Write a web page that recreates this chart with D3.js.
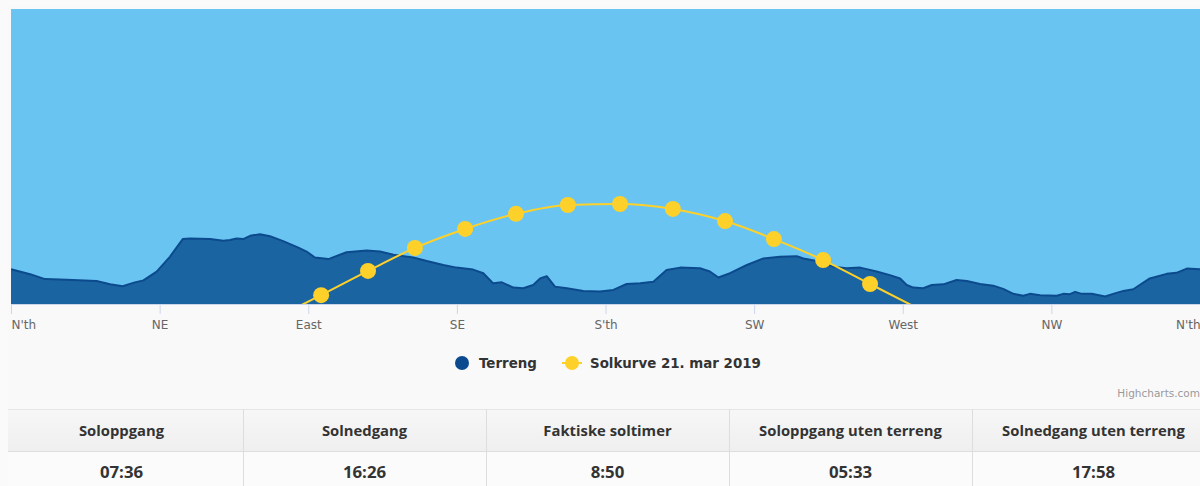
<!DOCTYPE html>
<html>
<head>
<meta charset="utf-8">
<script src="https://cdn.jsdelivr.net/npm/d3@7"></script>
<style>
    html, body { margin: 0; padding: 0; background: #fafafa; overflow: hidden; }
    svg { display: block; }
</style>
</head>
<body>
<div id="ground"></div>
<script>
document.addEventListener("DOMContentLoaded", function () {

    // compass labels for the x axis (azimuth in degrees)
    const dirTicks = [0, 45, 90, 135, 180, 225, 270, 315, 360],
        dirLabels = ["N'th", "NE", "East", "SE", "S'th", "SW", "West", "NW", "N'th"];

    // terrain horizon: azimuth / elevation (deg)
    const terrAz = [0, 5.8, 10.3, 16.9, 25.9, 30.0, 33.8, 37.5, 40.1, 44.1, 48.1, 52.0, 54.2, 60.3, 64.3, 66.3,
        68.3, 70.3, 72.4, 75.4, 78.4, 82.4, 87.0, 89.5, 92.0, 96.1, 101.6, 107.7, 111.7, 115.8, 121.8,
        125.9, 130.9, 134.9, 139.9, 143.0, 146.0, 148.6, 152.1, 155.1, 158.1, 160.2, 162.2, 164.7, 168.3,
        173.3, 178.3, 182.4, 186.4, 190.5, 194.5, 198.5, 202.6, 208.6, 211.6, 214.2, 217.7, 222.8, 227.8,
        232.8, 237.9, 239.9, 244.0, 249.0, 253.0, 257.1, 262.1, 266.1, 269.2, 271.2, 273.2, 276.2, 278.8,
        282.3, 286.3, 289.4, 293.4, 297.4, 300.4, 303.5, 306.5, 308.5, 311.6, 316.6, 318.6, 320.6, 322.2,
        324.2, 327.2, 331.3, 333.7, 336.8, 339.8, 344.8, 349.9, 352.9, 356.0, 360];
    const terrEl = [10.6, 9.1, 7.6, 7.4, 7.0, 6.0, 5.4, 6.6, 7.2, 9.9, 14.4, 19.8, 20.0, 19.8, 19.3, 19.5,
        20.0, 19.8, 20.8, 21.3, 20.7, 19.2, 17.2, 16.0, 14.2, 13.7, 15.8, 16.3, 16.0, 15.0, 14.2,
        13.1, 11.9, 11.1, 10.5, 9.4, 6.3, 6.6, 5.0, 4.8, 5.8, 7.8, 8.5, 5.3, 4.8,
        4.0, 3.8, 4.3, 6.1, 6.3, 6.8, 10.4, 11.1, 10.9, 9.9, 8.1, 9.4, 11.9, 13.9,
        14.4, 14.6, 13.9, 13.1, 11.4, 10.9, 11.1, 9.9, 8.8, 7.8, 5.8, 5.0, 4.8, 5.8,
        6.0, 7.3, 7.0, 6.1, 5.6, 4.6, 3.1, 2.5, 3.1, 2.7, 2.5, 3.1, 3.0, 3.7,
        3.1, 3.1, 2.3, 3.1, 4.0, 4.5, 7.8, 9.2, 9.5, 10.8, 10.6];

    // sun path 21 March, hourly
    const sunAz = [79.6, 93.9, 108.1, 122.3, 137.5, 152.9, 168.6, 184.4, 200.4, 216.2, 231.0, 245.9, 260.1, 274.3],
        sunEl = [-4.5, 2.7, 10.1, 17.1, 22.9, 27.5, 30.2, 30.5, 29.0, 25.3, 19.8, 13.4, 6.1, -1.2];

    const seriesNames = ["Terreng", "Solkurve 21. mar 2019"];

    const tableHeads = ["Soloppgang", "Solnedgang", "Faktiske soltimer", "Soloppgang uten terreng", "Solnedgang uten terreng"],
        tableValues = ["07:36", "16:26", "8:50", "05:33", "17:58"];

    const W = 1215, H = 486,
        plot = {left: 11, right: 1200, top: 9, bottom: 304},
        skyColor = "#6ac4f2", terrFill = "#1b64a2", terrLine = "#0b4a8c",
        terrLegend = "#0c4a8f", sunColor = "#fdd12a";

    const terrain = terrAz.map((a, i) => ({az: a, el: terrEl[i]})),
        sun = sunAz.map((a, i) => ({az: a, el: sunEl[i]}));

    let x = d3.scaleLinear().domain([0, 360]).range([plot.left, plot.right]),
        y = d3.scaleLinear().domain([0, 90]).range([plot.bottom, plot.top]);

    let svg = d3.select("#ground")
        .append("svg")
        .attr("width", W)
        .attr("height", H)
        .style("font-family", "'DejaVu Sans', sans-serif");

    svg.append("rect")
        .attr("x", 8).attr("y", 6)
        .attr("width", W).attr("height", H)
        .attr("fill", "#f9f9f9");

    svg.append("defs").append("clipPath")
        .attr("id", "plotClip")
        .append("rect")
        .attr("x", plot.left).attr("y", plot.top)
        .attr("width", plot.right - plot.left)
        .attr("height", plot.bottom - plot.top);

    // sky
    svg.append("rect")
        .attr("x", plot.left).attr("y", plot.top)
        .attr("width", plot.right - plot.left)
        .attr("height", plot.bottom - plot.top)
        .attr("fill", skyColor);

    let gPlot = svg.append("g").attr("clip-path", "url(#plotClip)");

    let area = d3.area()
        .x(d => x(d.az))
        .y0(y(0))
        .y1(d => y(d.el))
        .curve(d3.curveLinear);

    let line = d3.line()
        .x(d => x(d.az))
        .y(d => y(d.el))
        .curve(d3.curveLinear);

    gPlot.append("path")
        .attr("d", area(terrain))
        .attr("fill", terrFill);

    gPlot.append("path")
        .attr("d", line(terrain))
        .attr("fill", "none")
        .attr("stroke", terrLine)
        .attr("stroke-width", 2)
        .attr("stroke-linejoin", "round");

    gPlot.append("path")
        .attr("d", line.curve(d3.curveMonotoneX)(sun))
        .attr("fill", "none")
        .attr("stroke", sunColor)
        .attr("stroke-width", 2);

    gPlot.selectAll("circle.sun")
        .data(sun.filter(d => d.el > 0))
        .enter().append("circle")
        .attr("class", "sun")
        .attr("cx", d => x(d.az))
        .attr("cy", d => y(d.el))
        .attr("r", 8)
        .attr("fill", sunColor);

    // x axis
    let axis = svg.append("g")
        .attr("transform", "translate(0," + plot.bottom + ")")
        .call(d3.axisBottom(x)
            .tickValues(dirTicks)
            .tickFormat((d, i) => dirLabels[i])
            .tickSize(10)
            .tickPadding(6)
            .tickSizeOuter(0));
    axis.select(".domain").attr("stroke", "#ccd6eb");
    axis.selectAll(".tick line").attr("stroke", "#ccd6eb");
    axis.selectAll(".tick text")
        .attr("fill", "#666666")
        .attr("text-anchor", (d, i) => i === 0 ? "start" : (i === dirTicks.length - 1 ? "end" : "middle"))
        .style("font-size", "12px")
        .style("font-family", "'DejaVu Sans', sans-serif");

    // legend
    let lg = svg.append("g").attr("transform", "translate(0,363)")
        .style("font-size", "13.4px").style("font-weight", "bold");
    lg.append("circle").attr("cx", 462).attr("cy", 0).attr("r", 7).attr("fill", terrLegend);
    lg.append("text").attr("x", 479).attr("y", 5)
        .text(seriesNames[0])
        .attr("fill", "#333333");
    lg.append("line").attr("x1", 562).attr("x2", 582).attr("y1", 0).attr("y2", 0)
        .attr("stroke", sunColor).attr("stroke-width", 2);
    lg.append("circle").attr("cx", 572).attr("cy", 0).attr("r", 7).attr("fill", sunColor);
    lg.append("text").attr("x", 590).attr("y", 5)
        .text(seriesNames[1])
        .attr("fill", "#333333");

    svg.append("text")
        .attr("x", 1200).attr("y", 397)
        .attr("text-anchor", "end")
        .text("Highcharts.com")
        .attr("fill", "#999999").style("font-size", "10.5px");

    // table
    let cw = 243, tTop = 409, tMid = 451;
    let grad = svg.select("defs").append("linearGradient")
        .attr("id", "headGrad").attr("x1", 0).attr("x2", 0).attr("y1", 0).attr("y2", 1);
    grad.append("stop").attr("offset", 0).attr("stop-color", "#f7f7f7");
    grad.append("stop").attr("offset", 1).attr("stop-color", "#efefef");

    let tbl = svg.append("g").style("font-family", "'Open Sans', sans-serif");
    tbl.append("rect").attr("x", 8).attr("y", tTop).attr("width", W).attr("height", tMid - tTop)
        .attr("fill", "url(#headGrad)");
    tbl.append("rect").attr("x", 8).attr("y", tMid).attr("width", W).attr("height", H - tMid)
        .attr("fill", "#fbfbfb");
    tbl.append("line").attr("x1", 8).attr("x2", W).attr("y1", tTop + 0.5).attr("y2", tTop + 0.5)
        .attr("stroke", "#e6e6e6");
    tbl.append("line").attr("x1", 8).attr("x2", W).attr("y1", tMid + 0.5).attr("y2", tMid + 0.5)
        .attr("stroke", "#dddddd");
    tbl.selectAll("line.sep")
        .data(d3.range(1, tableHeads.length))
        .enter().append("line")
        .attr("class", "sep")
        .attr("x1", d => d * cw + 0.5).attr("x2", d => d * cw + 0.5)
        .attr("y1", tTop).attr("y2", H)
        .attr("stroke", "#dddddd");
    tbl.selectAll("text.head")
        .data(tableHeads)
        .enter().append("text")
        .attr("class", "head")
        .attr("x", (d, i) => i * cw + cw / 2)
        .attr("y", 436)
        .attr("text-anchor", "middle")
        .attr("fill", "#333333")
        .style("font-size", "14.8px").style("font-weight", "bold")
        .text(d => d);
    tbl.selectAll("text.val")
        .data(tableValues)
        .enter().append("text")
        .attr("class", "val")
        .attr("x", (d, i) => i * cw + cw / 2)
        .attr("y", 478)
        .attr("text-anchor", "middle")
        .attr("fill", "#333333")
        .style("font-size", "16.8px").style("font-weight", "bold")
        .text(d => d);
});
</script>
</body>
</html>
